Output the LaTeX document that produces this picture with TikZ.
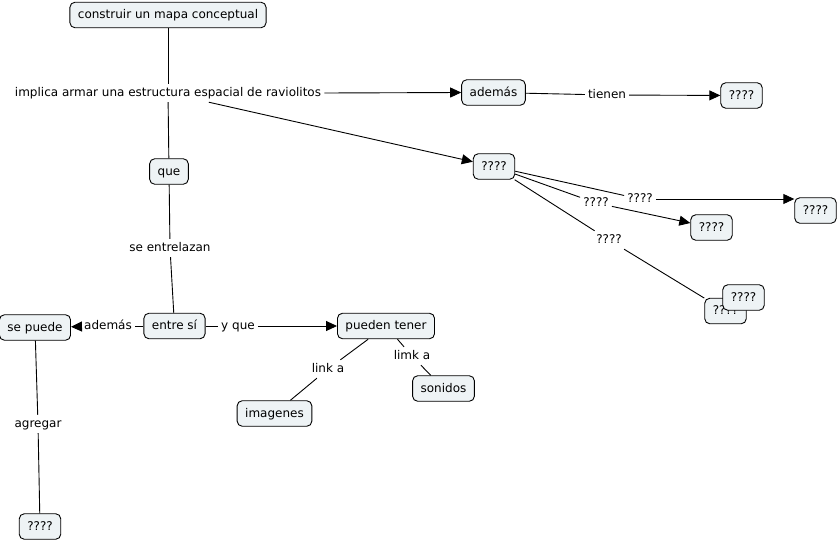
\documentclass[tikz,border=0pt]{standalone}
\usepackage{fontspec}
\setmainfont{DejaVu Sans}
\usetikzlibrary{arrows.meta}
\definecolor{boxfill}{HTML}{EEF3F5}
\begin{document}
\begin{tikzpicture}[x=1pt,y=-1pt,
  font=\fontsize{12}{14}\selectfont,
  concept/.style={draw=black, fill=boxfill, rounded corners=5pt, line width=0.9pt,
     minimum height=25.5pt, inner xsep=8pt, inner ysep=0pt, text height=9.5pt, text depth=2.5pt},
  lbl/.style={inner sep=3pt, text height=9.5pt, text depth=2.5pt},
  link/.style={draw=black, line width=0.9pt},
  arr/.style={link, -{Triangle[length=11pt,width=10pt]}}]
\useasboundingbox (0,0) rectangle (840,541);
% concepts
\node[concept] (top) at (168,15) {construir un mapa conceptual};
\node[concept] (que) at (169,171.5) {que};
\node[concept] (entre) at (174.5,326) {entre sí};
\node[concept] (sepuede) at (35,327.5) {se puede};
\node[concept] (pueden) at (386,326) {pueden tener};
\node[concept] (imagenes) at (274.5,413.5) {imagenes};
\node[concept] (sonidos) at (443.5,388.5) {sonidos};
\node[concept] (qbot) at (40,526.5) {????};
\node[concept] (ademas) at (493.5,92.5) {además};
\node[concept] (qtr) at (741.5,95.5) {????};
\node[concept] (qmid) at (494,166.5) {????};
\node[concept] (qfar) at (815.5,210.5) {????};
\node[concept] (qa) at (711.5,227.5) {????};
\node[concept] (qback) at (725.5,311) {????};
% labels
\node[lbl] (impl) at (168,93) {implica armar una estructura espacial de raviolitos};
\node[lbl] (entrel) at (170,248) {se entrelazan};
\node[lbl] (ademl) at (108,326) {además};
\node[lbl] (yque) at (238,326) {y que};
\node[lbl] (linka) at (328,369) {link a};
\node[lbl] (limka) at (412,356) {limk a};
\node[lbl] (agreg) at (38,424) {agregar};
\node[lbl] (tienen) at (607,95) {tienen};
\node[lbl] (l1) at (640,199) {????};
\node[lbl] (l2) at (596,203) {????};
\node[lbl] (l3) at (609,240) {????};
% connectors
\draw[link] (top) -- (impl);
\draw[link] (impl) -- (que);
\draw[arr] (impl.east) -- (ademas.west);
\draw[arr] (impl) -- (qmid);
\draw[link] (ademas) -- (tienen);
\draw[arr] (tienen) -- (qtr);
\draw[link] (que) -- (entrel);
\draw[link] (entrel) -- (entre);
\draw[link] (entre) -- (ademl);
\draw[arr] (ademl) -- (sepuede);
\draw[link] (entre) -- (yque);
\draw[arr] (yque) -- (pueden);
\draw[link] (pueden) -- (linka);
\draw[link] (linka) -- (imagenes);
\draw[link] (pueden) -- (limka);
\draw[link] (limka) -- (sonidos);
\draw[link] (sepuede) -- (agreg);
\draw[link] (agreg) -- (qbot);
\draw[link] (qmid) -- (l1);
\draw[arr] (l1.east) -- (qfar.west |- l1.east);
\draw[link] (qmid) -- (l2);
\draw[arr] (l2) -- (qa);
\draw[link] (qmid) -- (l3);
\draw[link] (l3) -- (qback);
\node[concept] (qfront) at (743.5,297.5) {????};
\end{tikzpicture}
\end{document}
